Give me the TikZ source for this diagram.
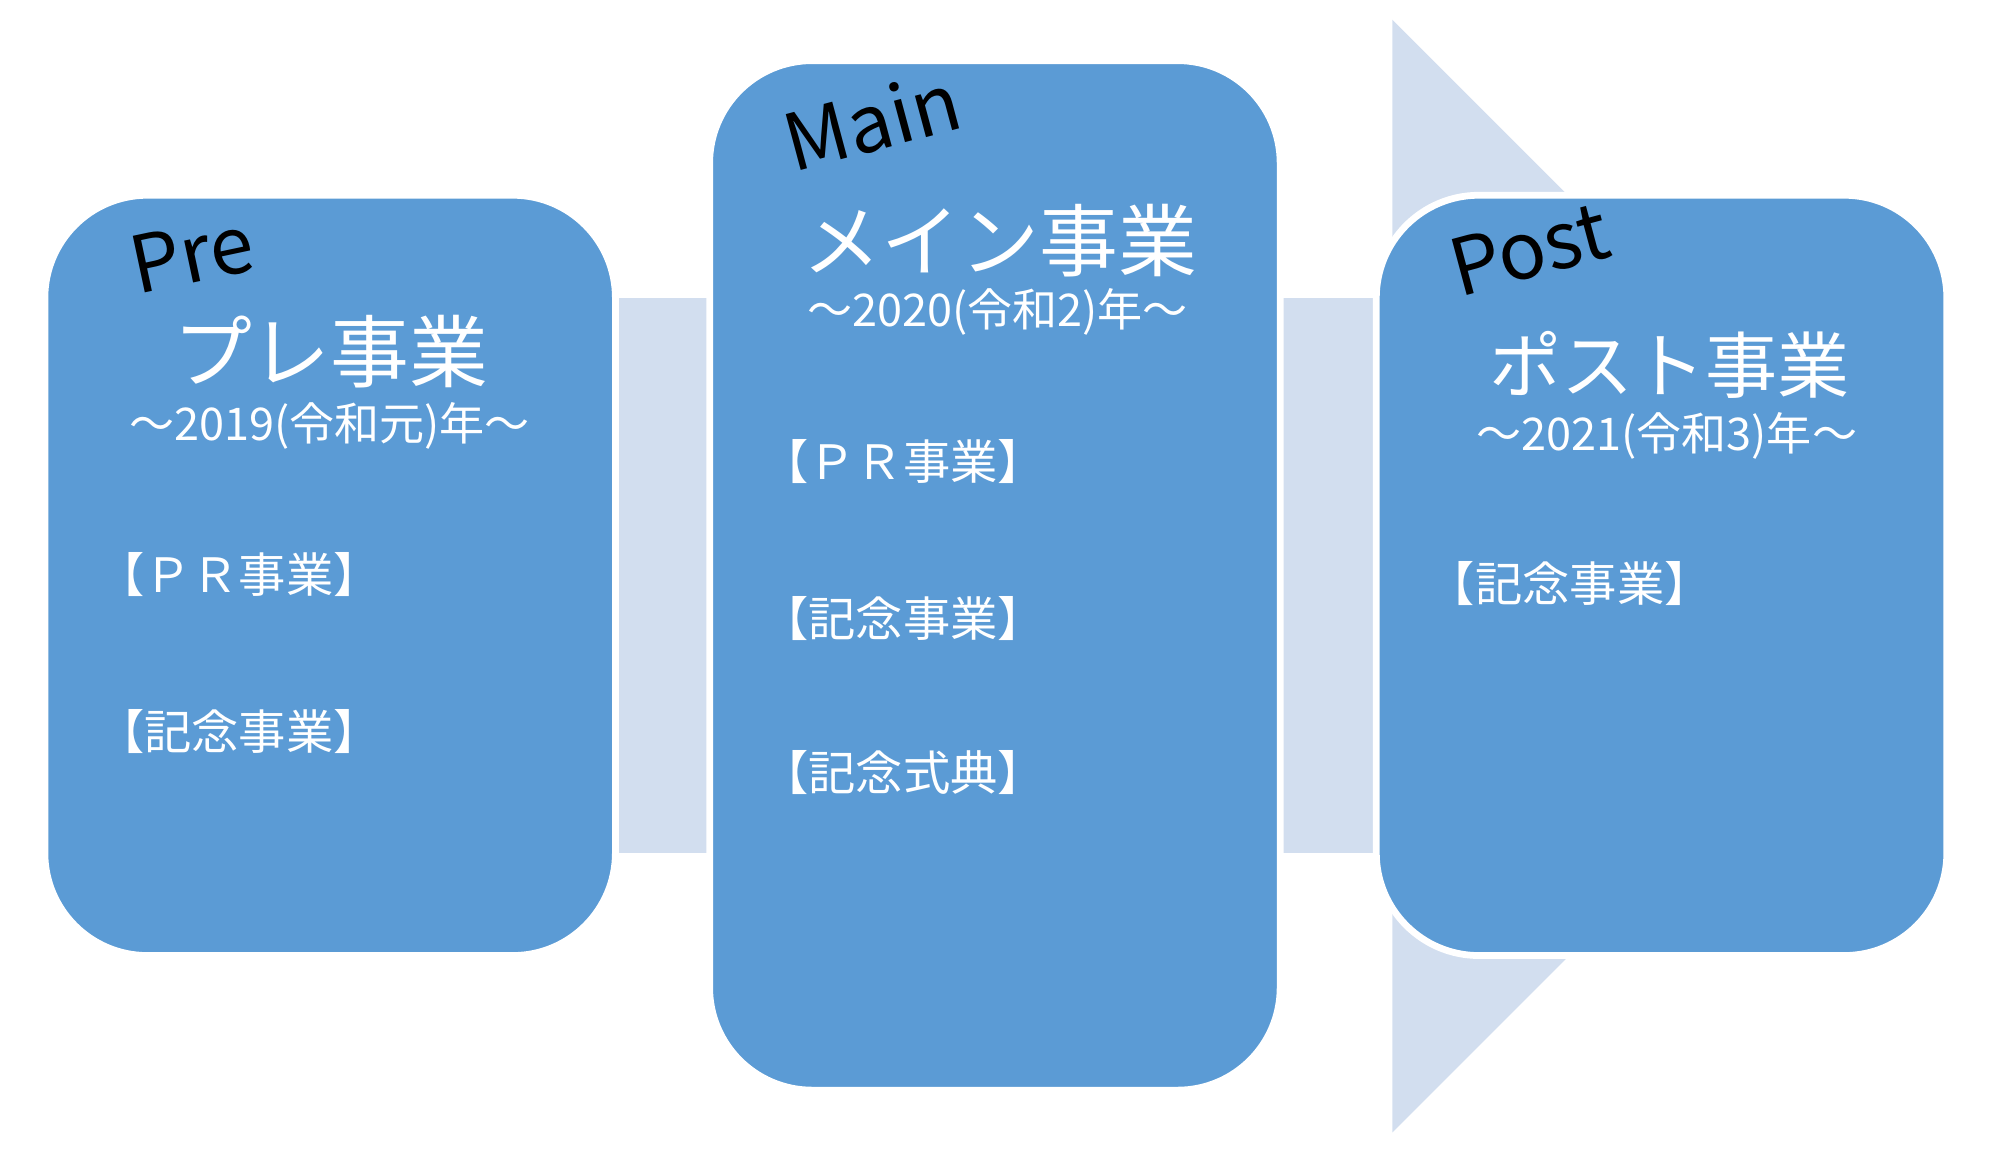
\documentclass[tikz,border=0pt]{standalone}
\usepackage{fontspec}
\setmainfont{Noto Sans CJK JP}
\usetikzlibrary{calc,backgrounds}
\definecolor{boxblue}{HTML}{5B9BD5}
\definecolor{linkblue}{HTML}{D2DEEF}

\begin{document}
\begin{tikzpicture}[
    stagebox/.style={rounded corners=0.8cm, fill=boxblue, draw=white, line width=1.5pt, minimum width=4.45cm},
    link/.style={fill=linkblue},
    tag/.style={font=\fontsize{17.5}{17.5}\selectfont, black, inner sep=0pt},
    title/.style={font=\fontsize{17.5}{20}\selectfont, white, inner sep=0pt},
    years/.style={font=\fontsize{10}{12}\selectfont, white, inner sep=0pt},
    item/.style={font=\fontsize{10.5}{12}\selectfont, white, anchor=west, inner sep=0pt}
]

    \useasboundingbox (0,0) rectangle (15.6,9.103);

    % Three stages
    \node[stagebox, minimum height=5.93cm] (pre) at (2.575, 4.615) {};
    \node[stagebox, minimum height=8.03cm] (main) at (7.76, 4.615) {};
    \node[stagebox, minimum height=5.93cm] (post) at (12.96, 4.615) {};

    % Links and arrow behind the boxes
    \begin{scope}[on background layer]

        \coordinate (a1) at (10.86, 8.95);
        \coordinate (a2) at (10.86, 0.27);
        \coordinate (a3) at (15.20, 4.61);

        \fill[link] (a1) -- (a2) -- (a3) -- cycle;

        \fill[link] ($(pre.east)+(-0.1, 2.165)$) rectangle ($(main.west)+(0.1, -2.165)$);
        \fill[link] ($(main.east)+(-0.1, 2.165)$) rectangle ($(post.west)+(0.1, -2.165)$);

    \end{scope}

    % Pre
    \node[tag, rotate=12] (pretag) at (1.50, 7.12) {Pre};
    \node[title] (pretitle) at (2.58, 6.36) {プレ事業};
    \node[years] (preyear) at (2.57, 5.78) {～2019(令和元)年～};
    \node[item] (pre1) at (0.75, 4.62) {【ＰＲ事業】};
    \node[item] (pre2) at (0.75, 3.40) {【記念事業】};

    % Main
    \node[tag, rotate=15] (maintag) at (6.80, 8.16) {Main};
    \node[title] (maintitle) at (7.80, 7.23) {メイン事業};
    \node[years] (mainyear) at (7.78, 6.67) {～2020(令和2)年～};
    \node[item] (main1) at (5.93, 5.50) {【ＰＲ事業】};
    \node[item] (main2) at (5.93, 4.28) {【記念事業】};
    \node[item] (main3) at (5.93, 3.08) {【記念式典】};

    % Post
    \node[tag, rotate=15] (posttag) at (11.93, 7.16) {Post};
    \node[title, font=\fontsize{16}{20}\selectfont] (posttitle) at (13.02, 6.26) {ポスト事業};
    \node[years] (postyear) at (13.00, 5.70) {～2021(令和3)年～};
    \node[item] (post1) at (11.13, 4.55) {【記念事業】};

\end{tikzpicture}
\end{document}
